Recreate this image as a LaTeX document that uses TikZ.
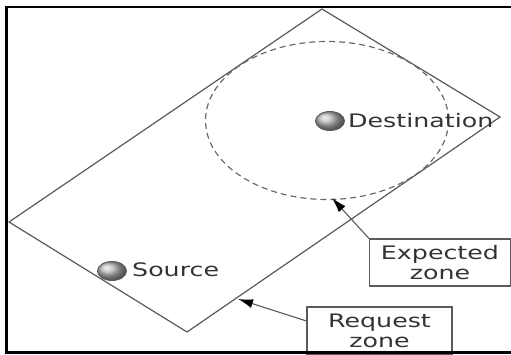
\documentclass[tikz,border=0pt]{standalone}
\usepackage{fontspec}
\setmainfont[FakeStretch=1.36]{DejaVu Sans}
\usetikzlibrary{arrows.meta,shapes.geometric}
\definecolor{linegray}{HTML}{5a5a5a}
\definecolor{txtgray}{HTML}{333333}
\tikzset{
  zoneline/.style={draw=linegray, line width=1.2pt, line join=miter},
  dashring/.style={draw=linegray!90, line width=1.2pt, dash pattern=on 6pt off 4pt},
  dotnode/.style={ellipse, draw=linegray, line width=0.9pt, ball color=gray!55, minimum width=29pt, minimum height=19pt, inner sep=0pt},
  lbl/.style={text=txtgray, font=\fontsize{18.6}{20}\selectfont, inner sep=0pt, anchor=west},
  zonebox/.style={draw=linegray, line width=1.2pt, fill=white, text=txtgray, font=\fontsize{18.6}{20}\selectfont, align=center, inner sep=0pt},
  arr/.style={draw=linegray, line width=1.1pt, -{Latex[length=15pt,width=9pt,color=black]}},
  frame/.style={draw=black, line width=2.3pt}
}
\begin{document}
\begin{tikzpicture}[x=1pt,y=-1pt]
\useasboundingbox (0,0) rectangle (511,355);
\fill[white] (0,0) rectangle (511,355);
% request zone rectangle
\coordinate (rt) at (322,9);
\coordinate (rr) at (500,117);
\coordinate (rb) at (187,332);
\coordinate (rl) at (9,222);
\draw[zoneline] (rt) -- (rr) -- (rb) -- (rl) -- cycle;
% expected zone
\draw[dashring] (327,120.5) ellipse [x radius=121.5, y radius=79];
% dots and labels
\node[dotnode] (dst) at (330,121) {};
\node[lbl] (dstl) at (348,121) {Destination};
\node[dotnode] (src) at (112,271) {};
\node[lbl] (srcl) at (132,270) {Source};
% boxes
\node[zonebox, minimum width=141pt, minimum height=47pt] (exp) at (440,262.5) {Expected\\zone};
\node[zonebox, minimum width=145pt, minimum height=48pt] (req) at (379.5,331) {Request\\zone};
\coordinate (expTip) at (332,198);
\coordinate (reqTip) at (238,299);
\draw[arr] (exp.north west) -- (expTip);
\draw[arr] ([yshift=10pt]req.west) -- (reqTip);
% frame
\draw[frame] (511,7) -- (6.5,7) -- (6.5,352.5) -- (511,352.5);
\end{tikzpicture}
\end{document}
